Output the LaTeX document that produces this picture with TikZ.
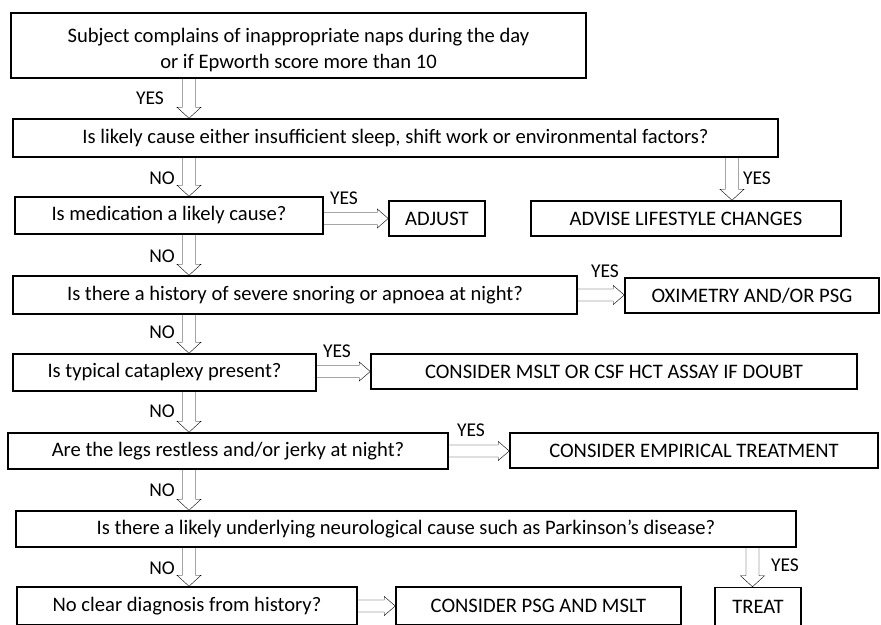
\documentclass[tikz,border=0pt]{standalone}
\usepackage{fontspec}
\setmainfont{Carlito}
\usetikzlibrary{calc}
\tikzset{
  box/.style={draw, line width=1.5pt, inner sep=0pt, align=center,
    font=\fontsize{20.6}{25.5}\selectfont},
  lbl/.style={inner sep=0pt, font=\fontsize{19.5}{21}\selectfont},
  vblock/.style={line width=1.8pt, line join=miter,
    to path={let \p1=(\tikztostart), \p2=(\tikztotarget) in
      (\x1-6.5pt,\y1) -- (\x1-6.5pt,\y2+11pt) -- (\x1-12pt,\y2+11pt) -- (\x1,\y2)
      -- (\x1+12pt,\y2+11pt) -- (\x1+6.5pt,\y2+11pt) -- (\x1+6.5pt,\y1)}},
  hblock/.style={line width=1.8pt, line join=miter,
    to path={let \p1=(\tikztostart), \p2=(\tikztotarget) in
      (\x1,\y1+6pt) -- (\x2-11pt,\y1+6pt) -- (\x2-11pt,\y1+9.5pt) -- (\x2,\y1)
      -- (\x2-11pt,\y1-9.5pt) -- (\x2-11pt,\y1-6pt) -- (\x1,\y1-6pt)}}
}
\begin{document}
\begin{tikzpicture}[x=1pt,y=-1pt]
\useasboundingbox (0,0) rectangle (881,624);
\clip (0,0) rectangle (881,624);
\fill[white] (0,0) rectangle (881,624);

% column coordinates for vertical arrows
\coordinate (ax) at (189,0);
\coordinate (ar) at (732,0);
\coordinate (at) at (752.5,0);

% boxes
\node[box, minimum width=575pt, minimum height=65pt] (b1) at (298.5,45.5) {};
\node[inner sep=0pt, align=center, font=\fontsize{20.6}{25.5}\selectfont] (b1t) at (298.5,50)
  {Subject complains of inappropriate naps during the day\\or if Epworth score more than 10};
\node[box, minimum width=765pt, minimum height=38pt] (b2) at (395.5,138)
  {Is likely cause either insufficient sleep, shift work or environmental factors?};
\node[box, minimum width=308pt, minimum height=37pt] (b3) at (169,215.5)
  {Is medication a likely cause?};
\node[box, minimum width=96pt, minimum height=35pt] (adjust) at (437,218.5) {ADJUST};
\node[box, minimum width=310pt, minimum height=35pt] (advise) at (686,218.5) {ADVISE LIFESTYLE CHANGES};
\node[box, minimum width=564pt, minimum height=38pt] (b4) at (295,295)
  {Is there a history of severe snoring or apnoea at night?};
\node[box, minimum width=254pt, minimum height=35pt] (oxi) at (752,295.5) {OXIMETRY AND/OR PSG};
\node[box, minimum width=303pt, minimum height=37pt] (b5) at (164.5,372.5)
  {Is typical cataplexy present?};
\node[box, minimum width=486pt, minimum height=35pt] (mslt) at (614,371.5)
  {CONSIDER MSLT OR CSF HCT ASSAY IF DOUBT};
\node[box, minimum width=440pt, minimum height=36pt] (b6) at (228,451)
  {Are the legs restless and/or jerky at night?};
\node[box, minimum width=368pt, minimum height=35pt] (emp) at (694,450.5)
  {CONSIDER EMPIRICAL TREATMENT};
\node[box, minimum width=780pt, minimum height=36pt] (b7) at (406,529)
  {Is there a likely underlying neurological cause such as Parkinson’s disease?};
\node[box, minimum width=340pt, minimum height=38pt] (b8) at (187,606)
  {No clear diagnosis from history?};
\node[box, minimum width=285pt, minimum height=38pt] (psg) at (538.5,606)
  {CONSIDER PSG AND MSLT};
\node[box, minimum width=86pt, minimum height=38pt] (treat) at (758,606.5) {TREAT};

% vertical arrows
\draw (b1.south -| ax) to[vblock] (b2.north -| ax);
\draw (b2.south -| ax) to[vblock] (b3.north -| ax);
\draw (b3.south -| ax) to[vblock] (b4.north -| ax);
\draw (b4.south -| ax) to[vblock] (b5.north -| ax);
\draw (b5.south -| ax) to[vblock] (b6.north -| ax);
\draw (b6.south -| ax) to[vblock] (b7.north -| ax);
\draw (b7.south -| ax) to[vblock] (b8.north -| ax);
\draw (b2.south -| ar) to[vblock] (advise.north -| ar);
\draw (b7.south -| at) to[vblock] (treat.north -| at);

% horizontal arrows
\draw (b3.east |- adjust.west) to[hblock] (adjust.west);
\draw (b4.east) to[hblock] (oxi.west |- b4.east);
\draw (b5.east |- mslt.west) to[hblock] (mslt.west);
\draw (b6.east) to[hblock] (emp.west |- b6.east);
\draw (b8.east) to[hblock] (psg.west |- b8.east);

% labels
\node[lbl] (y1) at (150,98) {YES};
\node[lbl] (n1) at (162,178) {NO};
\node[lbl] (n2) at (162,256) {NO};
\node[lbl] (n3) at (162,332) {NO};
\node[lbl] (n4) at (162,411) {NO};
\node[lbl] (n5) at (162,490) {NO};
\node[lbl] (n6) at (162,568) {NO};
\node[lbl] (y2) at (757,178) {YES};
\node[lbl] (y3) at (344,198) {YES};
\node[lbl] (y4) at (605,271) {YES};
\node[lbl] (y5) at (337,351) {YES};
\node[lbl] (y6) at (471,430) {YES};
\node[lbl] (y7) at (785,565) {YES};
\end{tikzpicture}
\end{document}
